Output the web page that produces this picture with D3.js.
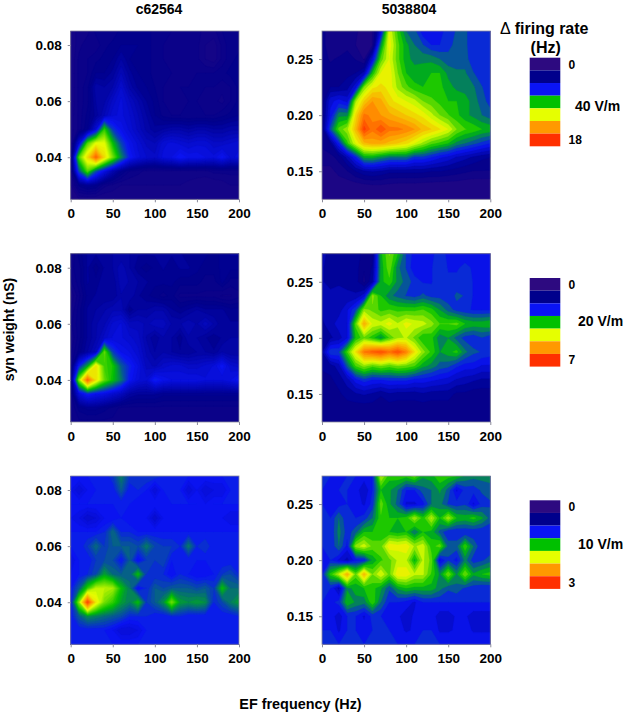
<!DOCTYPE html>
<html>
<head>
<meta charset="utf-8">
<script src="https://cdn.jsdelivr.net/npm/d3@7"></script>
<style>
  html, body { margin: 0; padding: 0; background: #fff; }
  svg { display: block; }
  text { font-family: "Liberation Sans", Arial, sans-serif; font-weight: bold; fill: #000; }
</style>
</head>
<body>
<div id="chart"></div>
<script>
// EF frequency grid (Hz), shared by all panels
const freqs = [0, 10, 20, 30, 40, 50, 60, 70, 80, 90, 100, 110, 120, 130, 140, 150, 160, 170, 180, 190, 200];
// syn weight grids (nS), top row first
const weightsLeft = [0.085, 0.08, 0.075, 0.07, 0.065, 0.06, 0.055, 0.05, 0.045, 0.04, 0.035, 0.03, 0.025];
const weightsRight = [0.275, 0.2625, 0.25, 0.2375, 0.225, 0.2125, 0.2, 0.1875, 0.175, 0.1625, 0.15, 0.1375, 0.125];

const xTicks = [0, 50, 100, 150, 200];
const yTicksLeft = [0.04, 0.06, 0.08];
const yTicksRight = [0.15, 0.20, 0.25];

// colour bar bands, low to high
const bandColors = ['#2d0a80', '#00008c', '#0a14f5', '#00c000', '#e6ff00', '#ff9900', '#ff3000'];

// delta firing rate (Hz), one row per syn weight
const rate40Left = [
  [1.5,2,2,2.5,2.5,2.5,2.8,2.8,2.8,2.8,2.6,2.4,2.4,2.4,2.2,2.2,2,2,2.4,2.6,2.6],
  [1.5,2,2.3,2.2,2.6,2.8,3,3,3,2.8,2.6,2.4,2.2,2.2,2.2,2.2,1.8,1.6,2.2,2.6,2.6],
  [1.5,2.2,2.4,2.6,2.8,3,3.6,3,2.8,2.8,2.6,2.4,2.2,2.2,2.2,2.2,1.8,1.6,2.2,2.6,2.8],
  [1.5,2.2,2.4,3,3,3.4,4.2,3.4,3,2.8,2.6,2.4,2.4,2.2,2.2,2.4,2.4,2.4,2.6,2.8,2.8],
  [1.5,2.2,2.6,3.8,3.6,3.9,4.8,3.8,3.2,3,2.7,2.4,2.2,2.4,2.4,2.4,2.4,2.4,2.2,2.4,2.8],
  [1.5,2.2,2.6,3.6,3.8,4.6,5.2,4.5,3.9,3.3,2.9,2.4,2.2,2.2,2.4,2.4,2.2,2.2,2,2.4,2.8],
  [1.6,2.2,2.8,3.4,4.2,5,5.2,4.8,4.2,3.6,3,2.6,2.4,2.4,2.4,2.4,2.4,2.4,2.6,2.8,3],
  [1.6,2.2,3,5,9.5,6.6,5.6,5,4.4,3.8,3.4,3.6,3.8,3.8,3.6,3.8,3.8,3.6,3.6,3.8,3.8],
  [1.5,5,10,12,12,9,6.8,5.6,5,4.4,4.2,5,5.2,5,4.8,5,5,4.6,4.6,4.8,5],
  [1.5,10,13,16.5,13,10.5,8,6,5.2,4.8,4.6,5.2,5.4,6,5.6,5.6,5.4,5.2,5.8,5,5.2],
  [1.5,7,10,7,5.4,4,3,2.4,2.2,2,2,2,2,2,2,2,2,2.2,2.2,2.2,2.2],
  [1.5,2.8,3.2,3,2.2,2,1.8,1.8,1.8,1.8,1.8,1.8,1.8,1.8,1.7,1.6,1.5,1.5,1.6,1.8,1.8],
  [1.4,1.5,1.5,1.5,1.5,1.5,1.5,1.5,1.5,1.5,1.5,1.5,1.5,1.5,1.5,1.5,1.5,1.5,1.5,1.5,1.5]
];
const rate40Right = [
  [2.4,2,1.8,2,1.6,1.2,1.5,5,12,9.5,7.5,7,5.5,5.5,5.6,6.5,6.8,7,6,6,6.2],
  [2.4,2,2,2,1.5,1,1.5,8,12.5,10,8.5,7.5,6.8,6,6,6.5,7,7,6,6,6],
  [2.4,2.2,2.3,2.6,2.2,1.4,5,10,12,10,8.5,8,8,8,7.5,7,7.2,7.2,6,6,6],
  [2.4,2.4,2.4,2.8,3,4,9,12,12.5,10.5,9,8.6,8.8,9,9,8,7.6,7.6,6.8,6.2,6],
  [2.4,3,3,3.4,5,10.5,12.5,13,12.5,11,10,9.2,9,9,9.2,8.6,8,8,7.6,6.8,6],
  [2.4,5,5.6,5,11,13.5,15,14.5,13,12.5,12,11.5,10.5,10,9.5,9,9,8.5,8,7,6.5],
  [2.4,5.5,8,8,13,16,15.5,15,14.5,14,13.5,13,12.5,11.5,10.5,9.8,9.2,8.5,8,7.5,7],
  [2.4,7,10,11,14,17.6,16,17.2,16,16,15.6,15,14,13.5,12.8,12,10.5,9.8,9.5,9,8.8],
  [2.4,3,6,9.5,12,14,14.5,14.5,14,13.5,13,12,11,10,9.5,9,8,7.5,7,6.5,6],
  [2,2,2.5,4,6,8.5,8.6,8,7.5,7.5,7.5,6.5,6.5,6,5.4,5,4.4,4,3.6,3.2,3],
  [1.2,1.2,1.8,2.2,3,3.6,3.8,3.6,3.2,3.2,3.2,3.2,3.2,3,3,2.8,2.6,2.4,2.2,2.2,2.2],
  [0.8,0.8,0.9,1,1.1,1.3,1.4,1.4,1.3,1.2,1.2,1.2,1.1,1.1,1,1,1,0.9,0.9,0.9,0.9],
  [0.8,0.8,0.8,0.8,0.8,0.8,0.8,0.8,0.8,0.8,0.8,0.8,0.8,0.8,0.8,0.8,0.8,0.8,0.8,0.8,0.8]
];
const rate20Left = [
  [0.8,1.1,1.3,1.3,1.3,1.4,1.4,1.4,1.3,1.3,1.3,1.3,1.3,1.3,1.2,1.2,1.2,1.1,1.2,1.3,1.3],
  [0.9,1,1.3,1.1,1.3,1.4,1.6,1.4,1.2,1.1,1.2,1.3,1.2,1.3,1.3,1.2,1.1,1.1,1.2,1.2,1.2],
  [0.8,1,1.3,1.2,1.4,1.3,1.6,1.5,1.4,1.3,1.2,1.2,1.2,1.1,1.1,1.1,1,1,1.2,1,1],
  [0.6,0.9,1.2,1.3,1.3,1.3,1.5,1.5,1.3,1.2,1.1,1,1.1,0.9,0.9,0.9,0.9,0.9,0.8,0.8,0.9],
  [0.7,1,1.3,1.4,1.5,1.6,1.6,1.2,1.4,1.4,1.5,1.5,1.3,1.2,1.3,1.4,1.3,1.3,1.3,1.2,1.2],
  [0.8,1,1.3,1.5,1.6,1.9,2,1.7,1.7,1.6,1.7,1.7,1.5,1.5,1.6,1.5,1.7,1.5,1.3,1.3,1.3],
  [0.7,1,1.3,1.5,1.8,2,2,1.9,1.8,1.5,1.3,1.5,1.4,1.2,1.5,1.4,1.3,1.2,1.3,1.4,1.4],
  [0.8,1.1,1.4,1.7,4,2.6,2.2,2.1,1.9,1.6,1.4,1.5,1.4,1.3,1.3,1.4,1.4,1.3,1.5,1.4,1.4],
  [0.8,2.4,3.3,5,3.8,3.6,2.8,2.4,2.1,1.7,1.6,1.8,1.9,1.9,1.8,1.8,1.9,2,2.3,1.9,1.8],
  [0.8,4.2,6.4,5,4,3.5,3,2.3,2,1.9,2.4,2.2,2.1,2.1,2.1,2.1,2,2,2,2.1,2.3],
  [0.8,2,2.4,2.2,2.1,1.9,1.7,1.4,1.3,1.3,1.3,1.2,1.2,1.2,1.2,1.2,1.2,1.2,1.2,1.2,1.2],
  [0.8,1.1,1.2,1.2,1.1,1,0.9,0.9,0.9,0.9,0.9,0.9,0.9,0.9,0.9,0.9,0.9,0.9,0.9,0.9,0.9],
  [0.8,0.9,0.9,0.9,0.9,0.9,0.9,0.9,0.9,0.9,0.9,0.9,0.9,0.9,0.9,0.9,0.9,0.9,0.9,0.9,0.9]
];
const rate20Right = [
  [1.6,1.3,1.4,1.2,1.4,1,1,3.4,4.1,3.5,2.6,2.2,2.3,2.3,2.4,2.3,2.3,2.2,2.3,2.3,2.3],
  [1.5,1.3,1.2,1.3,1.3,0.9,1.2,3.3,4,3,2.6,2.1,2.2,2.3,2.6,2.3,2.3,2.4,2.3,2.3,2.3],
  [1.5,1.3,1.4,1.4,1.3,0.8,1.4,3.4,3.7,3.1,2.8,2.5,2.3,2.3,2.6,2.4,2.4,2.6,2.3,2.3,2.3],
  [1.5,1.6,1.6,1.5,1.5,1.9,4.2,3.5,3,2.8,2.6,2.5,2.7,2.5,2.5,2.4,2.7,2.6,2.3,2.3,2.3],
  [1.5,1.5,1.6,2,2.6,4.2,4,3.7,3.8,3.7,3.7,3.7,3.8,3.6,3.2,2.8,2.5,2.4,2.3,2.3,2.3],
  [1.4,1.6,1.9,2,3.9,5.6,4.6,4.5,4.8,4.4,4.8,4.6,4.5,4.2,3.8,3.8,3.9,3.5,3.4,3.4,3.5],
  [1.3,1.4,1.6,2,3.5,4,3.6,3.1,3.8,4.3,4.4,4,3.5,3.6,3,3.2,2.8,2.5,2.4,2.6,2.4],
  [1.4,2.6,2.6,3.8,5,6.2,6.5,6.7,6.3,6.7,6.1,5,4.2,3.7,3.2,3.4,3.6,3,2.7,2.6,2.5],
  [1.2,1.3,1.6,2.8,3.8,4.2,3.9,4.1,3.9,4.1,4,3.8,3.3,3.1,2.8,2.7,2.4,2.2,2.2,2,2],
  [1.1,1.1,1.3,1.6,2.2,2.5,2.3,2.3,2.4,2.4,2.4,2.2,2.2,2.1,2,1.9,1.7,1.6,1.5,1.4,1.4],
  [1,1,1.1,1.3,1.4,1.5,1.4,1.2,1.4,1.3,1.3,1.3,1.4,1.3,1.3,1.3,1.1,1.1,1,1,1],
  [1,1,1,1,1,1,1,1,1,1,1,1,1,1,1,1,0.9,1,1,1,1],
  [1.1,1.1,1.1,1.1,1.1,1.1,1.1,1.1,1.1,1.1,1.1,1.1,1.1,1.1,1.1,1.1,1.1,1.1,1.1,1.1,1.1]
];
const rate10Left = [
  [1,1,1,1,1,1.1,1.3,1.1,1.1,1.1,1.1,1.05,1.05,1,1,1,1,1,1,1,1],
  [0.95,0.85,0.95,1,1,1,1.2,1,1.05,1,0.85,1,1,1,0.85,0.95,0.85,0.9,0.9,1,1],
  [1,1,1,1,1,1,1,1,0.95,0.95,1,0.95,1,1,1,1,0.95,1,1,1,1],
  [0.95,0.9,0.8,0.85,0.95,0.95,1,0.95,0.95,0.95,0.8,0.95,0.95,0.95,0.95,0.95,0.95,0.95,0.95,0.9,0.9],
  [1,1,1,1,1.05,1.25,1.05,1.05,1,1,1,1,1,1,1,1,1,1,1,1,1],
  [1,1,1.1,1.25,1.1,1.2,1.2,1.2,1.15,1.3,1.15,1.1,1.1,1.05,1.3,1.05,1.1,1,1,1,1],
  [0.9,1,1,1.1,1.15,1.15,1,1.2,0.95,1.1,1.1,1.15,1,1,1,1,1,1,1,1,1],
  [0.95,1,1.05,1.15,1.4,1.25,1.2,1.2,1.5,1.1,1.05,1.05,0.95,1.05,1,0.95,0.95,1,1.1,1.15,1.05],
  [1,1.2,1.6,1.9,1.9,1.85,1.5,1.3,0.95,1.05,1.2,1.15,1.2,1.2,1.2,1.15,1.2,1.1,1.5,1.25,1.25],
  [1,1.8,2.9,2.1,1.75,1.6,1.4,1.3,1.5,1.1,1.2,1.35,1.75,1.4,1.35,1.4,1.35,1.05,1.15,1.3,1.4],
  [1,1.2,1.35,1.3,1.25,1.2,1.15,1.05,1.05,1.05,1,1,1.05,1.05,1,1,1,1,1,1,1.05],
  [1,1,1,1,1,0.95,0.85,0.85,0.9,1,1,1,1,1,1,1,1,1,1,1,1],
  [1,1,1,1,1,1,1,1,1,1,1,1,1,1,1,1,1,1,1,1,1]
];
const rate10Right = [
  [1,1,0.95,1,1,0.95,1,1.9,1.55,1.6,1.55,1.7,1.4,1.45,1.6,1.55,1.5,1.35,1.3,1.3,1.3],
  [1,0.95,1,1,0.95,0.75,1,1.5,1.4,1.25,1,1,1.2,1.25,1.4,1.2,0.85,1.05,1.05,1.15,1.2],
  [1,0.95,0.95,1,0.95,0.85,1.05,1.7,1.4,1.2,0.85,0.85,0.95,1.25,1.3,1.1,1.05,1.1,0.85,1.05,1.1],
  [1,1,1.25,1,1,1.05,1.25,1.6,1.5,1.5,1.55,1.85,1.55,1.9,1.5,1.85,1.5,1.45,1.55,1.4,1.2],
  [1,1,1.3,1.05,1.2,1.5,1.5,1.5,1.5,1.45,1.5,1.25,1.5,1.45,1.2,1,1,1,1,1,1],
  [1,1,1.25,0.95,1.8,1.95,1.7,1.7,2.1,2.05,2.1,1.85,1.95,1.55,1.7,1.2,1.2,1.6,1.25,1,1],
  [0.95,1,0.85,0.7,0.95,1,1.4,1.6,1.7,1.9,1.9,1.45,1.9,1.7,0.85,1.1,0.95,1.3,1.05,1.1,1.2],
  [1,1.55,1.9,2.4,1.7,2.35,1.75,2,1.7,2.1,2.1,1.9,1.9,1.6,1.35,1.75,1.35,1.75,1.4,1.5,1.55],
  [1,1,0.7,1.35,1.4,1.5,1.55,1.4,1.15,1.4,1.5,1.45,1.45,1.45,1.3,1.15,1.2,1.1,1.05,1,1],
  [1,0.95,1.05,1.5,1.35,1.3,1.6,1.25,1,1,0.95,0.85,1,1,1,1,1,1,1,1,1],
  [0.95,0.95,0.8,1,1,0.85,1.05,1,0.95,0.9,0.8,0.9,0.9,0.95,0.8,0.8,0.9,0.9,0.8,0.8,0.8],
  [1,1,0.85,1,1,0.95,1,1,1,0.95,0.85,0.9,1,1,0.85,0.85,0.9,0.95,0.85,0.85,0.85],
  [1,1,1,1,1,1,1,1,1,1,1,1,1,1,1,1,1,1,1,1,1]
];

const width = 624, height = 713;
const panelSize = 168.3;
const colX = [70.7, 322];
const rowY = [31, 253.7, 476];

const svg = d3.select('#chart').append('svg')
  .attr('width', width)
  .attr('height', height);

// rate -> colour, stops at the colour bar bands
const bandIndex = d3.range(bandColors.length);
const bandColor = d3.scaleLinear().domain(bandIndex).range(bandColors).clamp(true);

function drawPanel(id, x0, y0, rows, weights, yTicks, yFormat, maxRate, levelsPerBand) {
  rows.forEach(r => { if (r.length !== freqs.length) throw new Error(id + ' bad row ' + r.length); });
  if (rows.length !== weights.length) throw new Error(id + ' bad rows');

  const x = d3.scaleLinear().domain([0, 200]).range([x0, x0 + panelSize]);
  const y = d3.scaleLinear().domain([weights[weights.length - 1], weights[0]]).range([y0 + panelSize, y0]);

  // d3.contours puts grid value i at coordinate i + 0.5
  const gridX = d3.scaleLinear().domain([0.5, freqs.length - 0.5]).range([x(freqs[0]), x(freqs[freqs.length - 1])]);
  const gridY = d3.scaleLinear().domain([0.5, weights.length - 0.5]).range([y(weights[0]), y(weights[weights.length - 1])]);
  const path = d3.geoPath(d3.geoTransform({
    point(px, py) { this.stream.point(gridX(px), gridY(py)); }
  }));

  const bandSize = maxRate / (bandColors.length - 1);
  const levels = d3.range(0, (bandColors.length - 1) * levelsPerBand + 1);
  const contours = d3.contours()
    .size([freqs.length, weights.length])
    .smooth(true)
    .thresholds(levels.map(i => i * bandSize / levelsPerBand))(rows.flat());

  svg.append('clipPath').attr('id', 'clip-' + id)
    .append('rect')
    .attr('x', x0).attr('y', y0)
    .attr('width', panelSize).attr('height', panelSize);

  const g = svg.append('g').attr('clip-path', `url(#clip-${id})`);
  g.selectAll('path')
    .data(contours)
    .join('path')
    .attr('d', path)
    .attr('fill', d => bandColor((d.value / bandSize) + 0.5 / levelsPerBand))
    .attr('stroke', d => bandColor((d.value / bandSize) + 0.5 / levelsPerBand))
    .attr('stroke-width', 0.3);

  // frame and axes
  svg.append('rect')
    .attr('x', x0).attr('y', y0)
    .attr('width', panelSize).attr('height', panelSize)
    .attr('fill', 'none')
    .attr('stroke', '#8c8c9c')
    .attr('stroke-width', 0.8);

  const xAxis = svg.append('g')
    .attr('transform', `translate(0,${y0 + panelSize})`)
    .call(d3.axisBottom(x).tickValues(xTicks).tickSize(3).tickPadding(6));
  const yAxis = svg.append('g')
    .attr('transform', `translate(${x0},0)`)
    .call(d3.axisLeft(y).tickValues(yTicks).tickFormat(d3.format(yFormat)).tickSize(3).tickPadding(6));

  [xAxis, yAxis].forEach(a => {
    a.select('.domain').remove();
    a.selectAll('line').attr('stroke', '#8c8c9c');
    a.selectAll('text').style('font-size', '13.5px').attr('fill', '#000');
  });
}

const panels = [
  ['a', 0, 0, rate40Left, weightsLeft, yTicksLeft, '.2f', 18, 10],
  ['b', 1, 0, rate40Right, weightsRight, yTicksRight, '.2f', 18, 4],
  ['c', 0, 1, rate20Left, weightsLeft, yTicksLeft, '.2f', 7, 10],
  ['d', 1, 1, rate20Right, weightsRight, yTicksRight, '.2f', 7, 4],
  ['e', 0, 2, rate10Left, weightsLeft, yTicksLeft, '.2f', 3, 10],
  ['f', 1, 2, rate10Right, weightsRight, yTicksRight, '.2f', 3, 4]
];
panels.forEach(([id, c, r, rows, weights, ticks, fmt, maxRate, n]) => {
  drawPanel(id, colX[c], rowY[r], rows, weights, ticks, fmt, maxRate, n);
});

// colour bars
const bars = [
  { top: 57.7, min: '0', max: '18', label: '40 V/m', labelX: 575, labelY: 106 },
  { top: 278, min: '0', max: '7', label: '20 V/m', labelX: 578, labelY: 321 },
  { top: 500.3, min: '0', max: '3', label: '10 V/m', labelX: 578, labelY: 544 }
];
const barX = 529.7, barW = 30.6, barH = 88.6;
bars.forEach(b => {
  const band = d3.scaleBand().domain(bandIndex).range([b.top, b.top + barH]);
  svg.append('g').selectAll('rect')
    .data(bandIndex)
    .join('rect')
    .attr('x', barX)
    .attr('y', d => band(d))
    .attr('width', barW)
    .attr('height', band.bandwidth())
    .attr('fill', d => bandColors[d]);
  svg.append('text').attr('x', 568.5).attr('y', b.top + 6.6).attr('dy', '0.35em').style('font-size', '12px').text(b.min);
  svg.append('text').attr('x', 568.5).attr('y', b.top + 82).attr('dy', '0.35em').style('font-size', '12px').text(b.max);
  svg.append('text').attr('x', b.labelX).attr('y', b.labelY).attr('dy', '0.35em').style('font-size', '14px').text(b.label);
});

// titles
svg.append('text').attr('x', 159).attr('y', 9).attr('dy', '0.35em').attr('text-anchor', 'middle').style('font-size', '14px').text('c62564');
svg.append('text').attr('x', 409).attr('y', 9).attr('dy', '0.35em').attr('text-anchor', 'middle').style('font-size', '14px').text('5038804');
const legendTitle = svg.append('text').attr('x', 500).attr('y', 28).attr('dy', '0.35em').style('font-size', '16px');
legendTitle.append('tspan').style('font-weight', 'normal').text('Δ');
legendTitle.append('tspan').attr('dx', 4).text('firing rate');
svg.append('text').attr('x', 545.7).attr('y', 47.6).attr('dy', '0.35em').attr('text-anchor', 'middle').style('font-size', '16px').text('(Hz)');

svg.append('text').attr('x', 300.5).attr('y', 704).attr('dy', '0.35em').attr('text-anchor', 'middle').style('font-size', '14.4px').text('EF frequency (Hz)');
svg.append('text')
  .attr('transform', 'translate(9.5,329.5) rotate(-90)')
  .attr('dy', '0.35em')
  .attr('text-anchor', 'middle')
  .style('font-size', '14px')
  .text('syn weight (nS)');
</script>
</body>
</html>
